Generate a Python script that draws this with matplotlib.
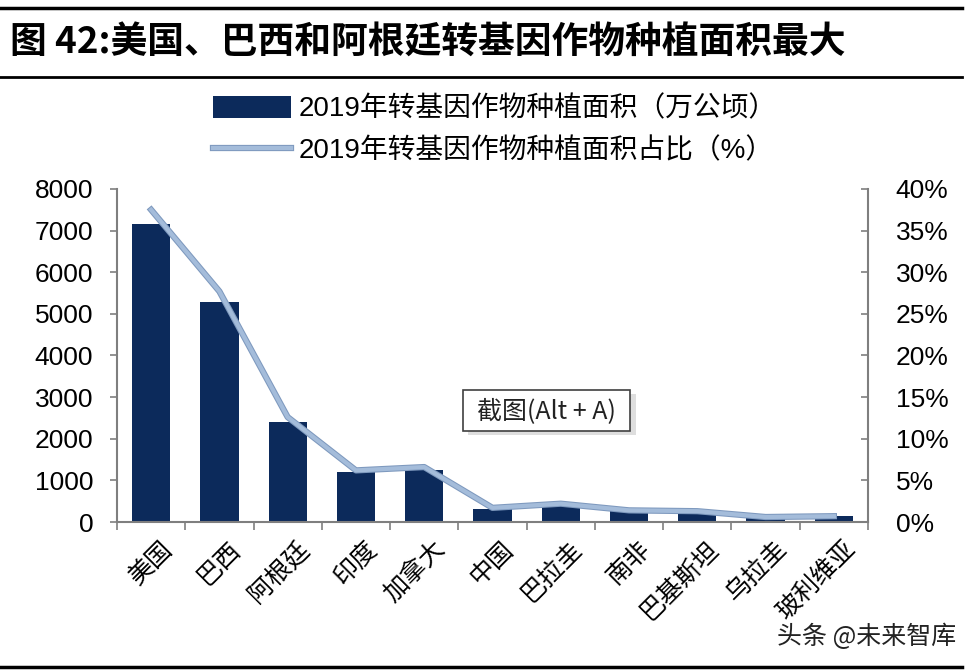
import numpy as np
import matplotlib
matplotlib.use("Agg")
import matplotlib.pyplot as plt
import matplotlib.patheffects as pe
from matplotlib.patches import Rectangle
from matplotlib.lines import Line2D

plt.rcParams['font.family'] = ['Liberation Sans', 'Noto Sans CJK SC', 'DejaVu Sans']

countries = ['美国', '巴西', '阿根廷', '印度', '加拿大', '中国', '巴拉圭', '南非', '巴基斯坦', '乌拉圭', '玻利维亚']
area = [7150, 5280, 2400, 1190, 1250, 320, 410, 270, 250, 120, 140]
share = [37.5, 27.7, 12.6, 6.2, 6.6, 1.7, 2.2, 1.4, 1.3, 0.6, 0.7]
left_ticks = [0, 1000, 2000, 3000, 4000, 5000, 6000, 7000, 8000]
right_ticks = [0, 5, 10, 15, 20, 25, 30, 35, 40]

bar_color = '#0C2A5B'
line_color = '#A4BCDA'
axis_gray = '#7F7F7F'
cjk = ['Noto Sans CJK SC', 'DejaVu Sans']

fig = plt.figure(figsize=(9.74, 6.72), dpi=100)
fig.patch.set_facecolor('white')

# rules and title
fig.add_artist(Line2D([0.0, 0.988], [0.988, 0.988], color='black', lw=2.5))
fig.add_artist(Line2D([0.0, 0.988], [0.886, 0.886], color='black', lw=2.0))
fig.add_artist(Line2D([0.0, 0.988], [0.007, 0.007], color='black', lw=2.5))
fig.text(0.010, 0.937, '图 42:美国、巴西和阿根廷转基因作物种植面积最大',
         fontsize=26.5, fontweight='bold', va='center', ha='left', family=cjk)

ax = fig.add_axes([0.1201, 0.2232, 0.7711, 0.4956])
x = np.arange(len(countries))
bars = ax.bar(x, area, width=0.56, color=bar_color, zorder=2,
              label='2019年转基因作物种植面积（万公顷）')
ax.set_xlim(-0.5, len(countries) - 0.5)
ax.set_ylim(0, 8000)
ax.set_yticks(left_ticks)
ax.set_yticklabels([str(v) for v in left_ticks], fontsize=19)
ax.set_xticks(np.arange(len(countries) + 1) - 0.5)
ax.set_xticklabels([])
ax.tick_params(axis='x', direction='out', length=6, color=axis_gray, width=1.2)
ax.tick_params(axis='y', direction='out', length=5, color=axis_gray, width=1.2, pad=12)
for s in ['top', 'right']:
    ax.spines[s].set_visible(False)
for s in ['left', 'bottom']:
    ax.spines[s].set_color(axis_gray)
    ax.spines[s].set_linewidth(1.5)

for i, name in enumerate(countries):
    ax.text(i + 0.12, -330, name, rotation=45, ha='right', va='top',
            rotation_mode='anchor', fontsize=18, family=cjk)

ax2 = ax.twinx()
ln, = ax2.plot(x, share, color=line_color, lw=3, zorder=3,
               solid_joinstyle='round',
               label='2019年转基因作物种植面积占比（%）',
               path_effects=[pe.Stroke(linewidth=4.5, foreground='#7E99BE'), pe.Normal()])
ax2.set_ylim(0, 40)
ax2.set_yticks(right_ticks)
ax2.set_yticklabels([f'{v}%' for v in right_ticks], fontsize=19)
ax2.tick_params(axis='y', direction='in', length=5, color=axis_gray, width=1.2, pad=20)
for s in ['top', 'left', 'bottom']:
    ax2.spines[s].set_visible(False)
ax2.spines['right'].set_color(axis_gray)
ax2.spines['right'].set_linewidth(1.5)

leg = fig.legend(handles=[bars, ln], loc='upper left', bbox_to_anchor=(0.193, 0.894),
                 frameon=False, handlelength=2.8, handleheight=0.8,
                 labelspacing=0.55, handletextpad=0.3,
                 prop={'family': ['Liberation Sans', 'Noto Sans CJK SC'], 'size': 20})

# screenshot tooltip
fig.add_artist(Rectangle((0.481, 0.352), 0.172, 0.062, transform=fig.transFigure,
                         facecolor='#C8C8C8', edgecolor='none', alpha=0.6))
fig.add_artist(Rectangle((0.475, 0.358), 0.172, 0.062, transform=fig.transFigure,
                         facecolor='white', edgecolor='#404040', lw=1.2))
fig.text(0.561, 0.389, '截图(Alt + A)', ha='center', va='center', fontsize=18,
         family=cjk, color='#222222')

fig.text(0.982, 0.052, '头条 @未来智库', ha='right', va='center', fontsize=18,
         family=cjk, color='#222222')

fig.savefig('out.png', dpi=100)
